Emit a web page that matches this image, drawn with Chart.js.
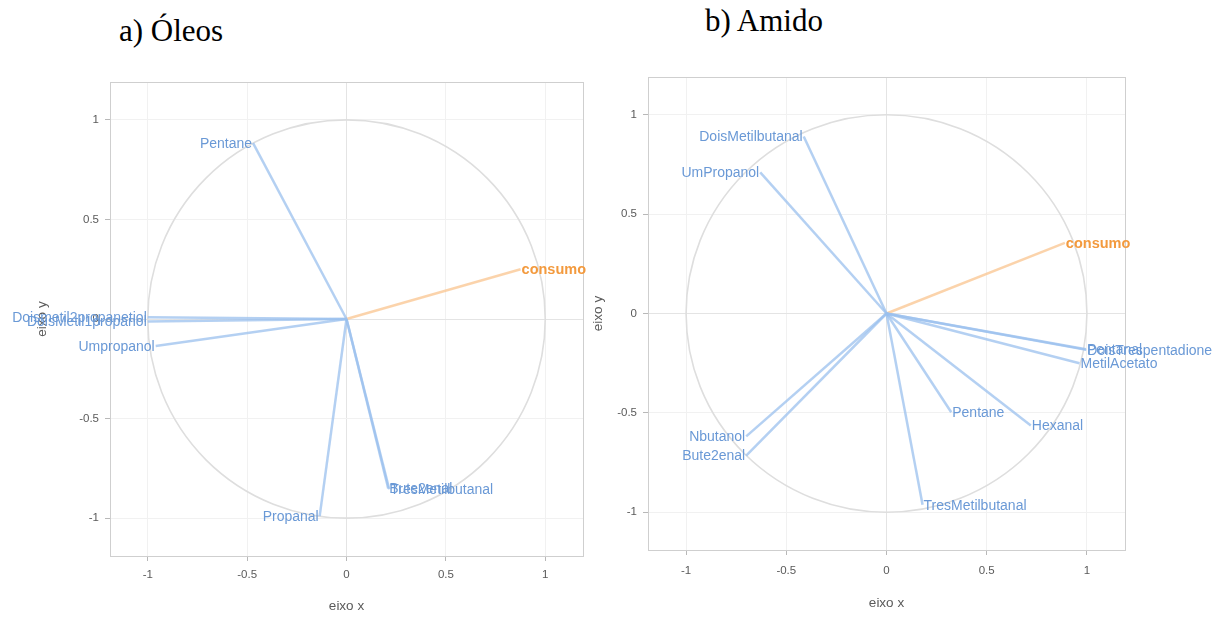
<!DOCTYPE html>
<html>
<head>
<meta charset="utf-8">
<script src="https://cdn.jsdelivr.net/npm/chart.js@4.4.1/dist/chart.umd.min.js"></script>
<style>
  body { margin: 0; background: #fff; width: 1219px; height: 619px; overflow: hidden; position: relative; }
  .ttl { position: absolute; font-family: "Liberation Serif", "Times New Roman", serif; font-size: 31px; line-height: 31px; color: #000; }
  .box { position: absolute; top: 0; height: 619px; }
</style>
</head>
<body>
<div class="ttl" style="left:119px; top:15px;">a) Óleos</div>
<div class="ttl" style="left:705px; top:5px;">b) Amido</div>
<div class="box" style="left:0; width:600px;"><canvas id="oleosChart"></canvas></div>
<div class="box" style="left:560px; width:659px;"><canvas id="amidoChart"></canvas></div>
<script>
const axisTicks = [-1, -0.5, 0, 0.5, 1];

// a) Óleos
const oleosVars = ["Pentane", "Doismetil2propanetiol", "DoisMetil1propanol", "Umpropanol", "Propanal", "Bute2enal", "TresMetilbutanal"];
const oleosX = [-0.47, -1.0, -1.0, -0.96, -0.135, 0.21, 0.215];
const oleosY = [0.883, 0.009, -0.013, -0.136, -0.99, -0.851, -0.855];
const oleosSup = ["consumo"];
const oleosSupX = [0.876];
const oleosSupY = [0.25];

// b) Amido
const amidoVars = ["DoisMetilbutanal", "UmPropanol", "Pentanal", "DoisTrespentadione", "MetilAcetato", "Pentane", "Hexanal", "Nbutanol", "Bute2enal", "TresMetilbutanal"];
const amidoX = [-0.413, -0.63, 0.995, 0.997, 0.963, 0.323, 0.72, -0.70, -0.70, 0.18];
const amidoY = [0.891, 0.71, -0.18, -0.183, -0.25, -0.497, -0.564, -0.618, -0.715, -0.962];
const amidoSup = ["consumo"];
const amidoSupX = [0.89];
const amidoSupY = [0.355];

const FONT = "'Liberation Sans', Arial, sans-serif";
const LINE_BLUE = "rgba(155, 192, 238, 0.75)";
const LINE_ORANGE = "rgba(250, 200, 150, 0.8)";
const TEXT_BLUE = "#6a99d6";
const TEXT_ORANGE = "#f39a3e";

const makeDatasets = (names, xs, ys, color, sup) =>
    names.map((n, i) => ({
        label: n,
        sup: sup,
        data: [{ x: 0, y: 0 }, { x: xs[i], y: ys[i] }],
        showLine: true,
        borderColor: color,
        borderWidth: 2.5,
        pointRadius: 0,
        fill: false,
    }));

// unit circle + plot frame
const circlePlugin = {
    id: "circle",
    beforeDatasetsDraw(chart) {
        const { ctx, chartArea, scales } = chart;
        const cx = scales.x.getPixelForValue(0);
        const cy = scales.y.getPixelForValue(0);
        const rx = scales.x.getPixelForValue(1) - cx;
        const ry = cy - scales.y.getPixelForValue(1);
        ctx.save();
        ctx.strokeStyle = "#cfcfcf";
        ctx.lineWidth = 1;
        ctx.strokeRect(chartArea.left + 0.5, chartArea.top + 0.5, chartArea.width, chartArea.height);
        ctx.strokeStyle = "#dedede";
        ctx.lineWidth = 1.6;
        ctx.beginPath();
        ctx.ellipse(cx, cy, rx, ry, 0, 0, Math.PI * 2);
        ctx.stroke();
        ctx.restore();
    },
};

// variable names at arrow tips
const labelPlugin = {
    id: "tipLabels",
    afterDatasetsDraw(chart) {
        const { ctx } = chart;
        ctx.save();
        ctx.textBaseline = "middle";
        chart.data.datasets.forEach((ds, i) => {
            const tip = chart.getDatasetMeta(i).data[1];
            const right = ds.data[1].x >= 0;
            ctx.textAlign = right ? "left" : "right";
            if (ds.sup) {
                ctx.font = "bold 14.5px " + FONT;
                ctx.fillStyle = TEXT_ORANGE;
            } else {
                ctx.font = "14px " + FONT;
                ctx.fillStyle = TEXT_BLUE;
            }
            ctx.fillText(ds.label, tip.x + (right ? 1 : -1), tip.y + 1);
        });
        ctx.restore();
    },
};

const axis = (title, fitSize, isX, tickPad, titlePad) => ({
    type: "linear",
    min: -1.19,
    max: 1.19,
    afterBuildTicks: (s) => { s.ticks = axisTicks.map((v) => ({ value: v })); },
    afterFit: (s) => { if (isX) s.height = fitSize; else s.width = fitSize; },
    grid: {
        color: (c) => (c.tick && c.tick.value === 0 ? "#e4e4e4" : "#f1f1f1"),
        tickColor: "#b8b8b8",
        tickLength: 5,
        lineWidth: 1,
    },
    border: { display: false },
    ticks: {
        color: "#5a5a5a",
        font: { size: 11.5, family: FONT },
        padding: tickPad,
        callback: (v) => String(v),
    },
    title: {
        display: true,
        text: title,
        color: "#5a5a5a",
        font: { size: 13.5, family: FONT },
        padding: titlePad,
    },
});

const corrCircle = (id, vars, xs, ys, sup, supX, supY, pad, yW, xH, xTickPad, xTitlePad) => {
    const ctx = document.getElementById(id);
    const datasets = makeDatasets(vars, xs, ys, LINE_BLUE, false)
        .concat(makeDatasets(sup, supX, supY, LINE_ORANGE, true));

    const config = {
        type: "scatter",
        data: { datasets: datasets },
        options: {
            responsive: true,
            maintainAspectRatio: false,
            animation: false,
            layout: { padding: pad },
            plugins: { legend: { display: false }, tooltip: { enabled: false } },
            scales: {
                x: axis("eixo x", xH, true, xTickPad, xTitlePad),
                y: axis("eixo y", yW, false, 6, { top: 3, bottom: 4 }),
            },
        },
        plugins: [circlePlugin, labelPlugin],
    };

    return new Chart(ctx, config);
};

corrCircle("oleosChart", oleosVars, oleosX, oleosY, oleosSup, oleosSupX, oleosSupY,
    { left: 31, right: 17, top: 82, bottom: 0 }, 79, 63, 7, { top: 4, bottom: 5 });
corrCircle("amidoChart", amidoVars, amidoX, amidoY, amidoSup, amidoSupX, amidoSupY,
    { left: 27, right: 94, top: 77, bottom: 3 }, 61, 66, 9, { top: 4, bottom: 5 });
</script>
</body>
</html>
